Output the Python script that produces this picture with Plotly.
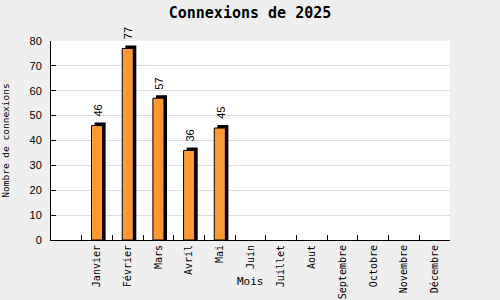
import plotly.graph_objects as go

months = ["Janvier", "Février", "Mars", "Avril", "Mai", "Juin", "Juillet",
          "Aout", "Septembre", "Octobre", "Novembre", "Décembre"]
values = [46, 77, 57, 36, 45, None, None, None, None, None, None, None]

title = "Connexions de 2025"
y_title = "Nombre de connexions"
x_title = "Mois"

shadow_up = 1.2   # ~3px in data units
bar_w = 0.36
shadow_dx = 0.1

shadow_vals = [v + shadow_up if v is not None else None for v in values]

fig = go.Figure()
fig.add_trace(go.Bar(
    x=months, y=shadow_vals, width=bar_w, offset=-bar_w / 2 + shadow_dx,
    marker=dict(color="black", line=dict(width=0)),
    hoverinfo="skip", showlegend=False, cliponaxis=False,
))
fig.add_trace(go.Bar(
    x=months, y=values, width=bar_w, offset=-bar_w / 2,
    marker=dict(color="#FF9933", line=dict(color="black", width=1)),
    showlegend=False, cliponaxis=False,
))

annotations = []
for m, v in zip(months, values):
    if v is None:
        continue
    annotations.append(dict(
        x=m, y=v, xref="x", yref="y", text=str(v), showarrow=False,
        textangle=-90, xanchor="center", yanchor="bottom", yshift=7, xshift=1,
        font=dict(family="Liberation Sans", size=11, color="black"),
    ))
annotations.append(dict(text=x_title, xref="paper", yref="paper", x=0.5, y=-41 / 199,
                        xanchor="center", yanchor="middle", showarrow=False,
                        font=dict(family="DejaVu Sans Mono", size=11, color="black")))

fig.update_layout(
    width=500, height=300,
    margin=dict(l=51, r=50, t=41, b=60),
    paper_bgcolor="#EFEFEF", plot_bgcolor="white",
    barmode="overlay",
    title=dict(text="<b>" + title + "</b>", x=0.5, xanchor="center",
               y=1 - 13 / 300, yanchor="middle",
               font=dict(family="DejaVu Sans Mono", size=15, color="black")),
    xaxis=dict(
        type="category", categoryorder="array", categoryarray=months,
        range=[-1.5, 11.5], tickson="boundaries", ticks="inside", ticklen=5,
        tickcolor="black", showline=True, linecolor="black", linewidth=1,
        showgrid=False, tickangle=-90, automargin=False,
        tickfont=dict(family="DejaVu Sans Mono", size=10, color="black"),
    ),
    yaxis=dict(
        range=[0, 80], dtick=10, ticks="inside", ticklen=5, tickcolor="black",
        showline=True, linecolor="black", linewidth=1, automargin=False,
        showgrid=True, gridcolor="#DDDDDD", zeroline=False, ticklabelstandoff=6,
        tickfont=dict(family="Liberation Sans", size=11, color="black"),
        title=dict(text=y_title, standoff=18,
                   font=dict(family="DejaVu Sans Mono", size=9.5, color="black")),
    ),
    annotations=annotations,
)

fig.write_html("out.html")
